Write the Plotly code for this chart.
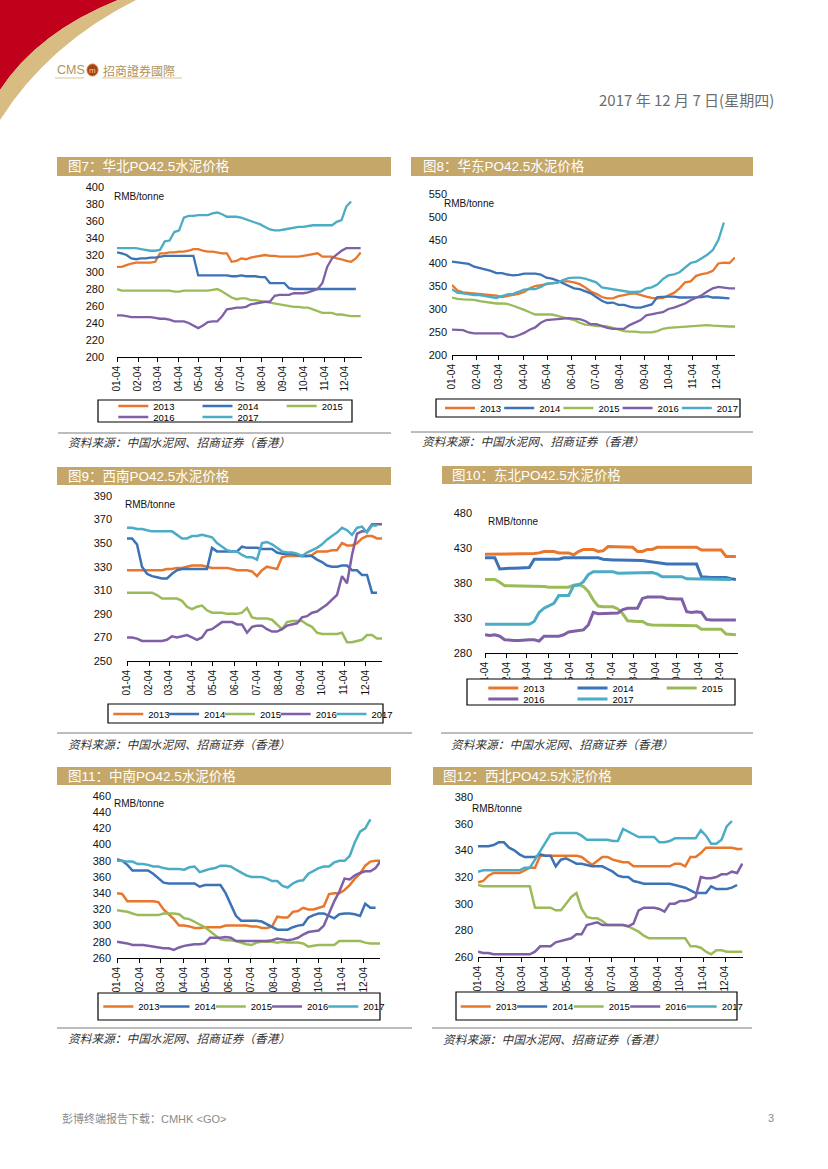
import pandas as pd
import plotly.graph_objects as go

W, H = 828, 1169

# ---------------- data (weekly readings from 01-04) ----------------
years = ["2013", "2014", "2015", "2016", "2017"]
tick_start = "2017-01-04"

# 图7 华北
north_2013 = [306,306,308,310,311,311,311,311,312,322,322,323,323,324,324,325,327,327,325,324,324,323,322,322,312,313,316,315,317,318,319,320,319,319,318,318,318,318,318,319,320,321,322,318,318,318,316,315,313,312,316,323]
north_2014 = [323,322,320,316,315,316,316,317,317,318,319,319,319,319,319,319,319,296,296,296,296,296,296,296,295,295,296,295,295,295,294,294,287,287,287,287,281,280,280,280,280,280,280,280,280,280,280,280,280,280,280]
north_2015 = [280,278,278,278,278,278,278,278,278,278,278,278,277,277,278,278,278,278,278,278,279,280,277,274,270,268,269,269,267,267,266,265,264,263,262,261,260,259,259,258,258,256,254,252,252,252,250,250,249,248,248,248]
north_2016 = [249,249,248,247,247,247,247,247,246,245,245,244,242,242,242,240,237,234,237,241,242,242,248,256,257,258,258,259,262,263,264,265,265,272,273,273,273,275,275,275,276,278,280,287,306,316,321,325,328,328,328,328]
north_2017 = [328,328,328,328,328,327,326,325,325,326,336,337,347,349,364,366,366,367,367,367,369,370,368,365,365,365,364,362,360,358,356,353,350,349,349,350,351,352,353,353,354,355,355,355,355,355,359,361,377,383]

# 图8 华东
east_2013 = [352,340,336,335,333,333,332,331,329,326,328,330,333,337,345,350,352,354,355,357,360,360,358,354,347,338,333,326,323,323,328,330,333,334,330,327,324,323,324,330,335,345,358,360,372,376,378,383,399,401,400,412]
east_2014 = [403,401,400,398,392,389,387,383,378,378,375,373,374,377,377,377,375,368,366,362,356,350,345,343,338,334,326,318,313,314,309,309,305,303,303,306,310,326,327,327,327,325,325,325,325,326,328,325,325,324,323]
east_2015 = [325,322,321,320,320,317,315,313,312,312,311,307,303,298,293,288,288,288,288,285,282,279,276,270,266,265,263,263,262,259,255,252,251,251,249,249,249,252,257,259,260,261,262,263,264,265,265,264,263,262,262,262]
east_2016 = [255,255,254,249,247,247,247,247,247,247,240,239,243,248,255,260,270,276,277,278,280,280,279,278,274,267,267,263,259,257,257,257,265,270,276,286,289,291,293,300,303,307,312,319,325,330,338,345,348,346,345,345]
east_2017 = [343,335,334,332,330,330,328,326,324,328,332,333,338,342,343,343,348,355,356,357,363,367,368,368,366,362,358,347,345,343,340,338,337,337,338,345,347,353,365,373,375,380,390,400,403,410,418,428,450,488]

# 图9 西南
sw_2013 = [327,327,327,327,327,327,327,327,328,328,329,329,330,331,331,331,330,329,329,329,329,328,327,327,327,326,322,327,330,329,328,338,339,339,339,339,339,340,343,343,343,344,344,350,348,348,350,354,356,356,354,354]
sw_2014 = [354,354,349,330,324,322,321,320,320,324,327,328,328,328,328,328,328,346,343,343,343,343,343,347,346,346,346,345,345,345,342,341,341,341,340,339,339,339,336,334,331,330,330,331,331,327,327,323,323,308,308]
sw_2015 = [308,308,308,308,308,308,306,303,303,303,303,301,296,294,296,297,293,291,291,291,290,290,290,291,295,287,286,286,286,285,281,277,283,284,284,284,281,279,274,273,273,273,273,274,266,266,267,268,272,272,269,269]
sw_2016 = [270,270,269,267,267,267,267,267,268,271,270,271,272,270,268,270,276,277,280,283,283,283,281,281,274,279,280,280,277,275,275,277,280,281,282,287,288,291,292,295,298,302,306,322,316,340,358,360,360,366,366,366]
sw_2017 = [363,363,362,362,361,360,360,360,360,360,357,354,354,356,356,357,356,355,350,347,344,343,343,340,338,338,336,350,351,349,346,343,342,342,341,339,342,344,346,349,353,356,359,363,361,357,363,364,359,365,365]

# 图10 东北
ne_2013 = [421,421,422,422,422,422,422,422,422,422,422,423,425,425,425,423,423,423,420,425,428,428,428,425,426,432,432,432,432,432,431,425,425,428,428,431,431,431,431,431,431,431,431,431,427,427,427,427,427,418,418,418]
ne_2014 = [416,416,416,400,401,401,401,401,401,402,414,414,414,414,414,414,416,416,416,416,416,416,416,416,414,413,413,413,413,413,413,413,412,411,410,408,407,407,407,407,407,407,407,407,389,388,388,388,388,388,386,385]
ne_2015 = [385,385,385,381,376,376,376,376,376,376,376,376,375,374,374,374,374,374,377,378,375,368,356,347,346,346,346,343,336,326,325,325,325,321,320,320,320,320,320,320,320,320,320,319,314,314,314,314,314,307,306,306]
ne_2016 = [306,305,306,304,299,298,298,298,299,299,299,297,304,304,304,304,306,310,311,312,313,320,338,336,336,336,336,337,342,344,344,344,358,360,360,360,360,358,357,357,357,339,338,339,338,328,327,327,327,327,327,327]
ne_2017 = [321,321,321,321,321,321,321,321,321,321,325,338,344,348,351,362,362,362,376,377,382,392,396,396,396,396,396,394,394,394,395,395,395,395,395,393,389,389,389,389,389,386,386,386,386,386,386,386,386,385,385]

# 图11 中南
cs_2013 = [340,339,330,330,330,330,330,330,329,320,314,308,300,300,299,297,297,298,298,298,298,300,300,300,300,300,299,299,297,297,299,311,310,310,317,318,322,320,320,322,324,339,340,340,344,350,358,364,374,379,380,380]
cs_2014 = [382,380,375,368,368,368,368,364,358,353,352,352,352,352,352,352,348,350,350,350,350,340,327,312,306,306,306,306,305,302,298,295,295,295,298,300,301,310,313,315,315,312,309,314,315,315,314,312,327,322,322]
cs_2015 = [319,318,317,315,313,313,313,313,313,315,315,315,314,309,308,305,302,298,293,288,283,282,282,281,279,277,276,279,280,280,280,279,280,279,279,279,278,274,275,276,276,276,276,281,281,281,281,281,279,278,278,278]
cs_2016 = [280,279,278,276,276,276,275,274,273,272,272,270,273,275,276,277,277,278,285,285,285,286,285,281,281,281,281,281,281,281,282,284,283,282,283,285,289,292,293,294,300,315,330,342,358,357,362,365,367,367,371,380]
cs_2017 = [380,380,379,379,376,376,375,373,373,371,370,370,370,369,372,373,366,368,370,371,374,374,373,369,365,362,360,360,360,358,355,355,349,347,352,355,356,364,368,371,373,373,378,380,380,386,403,416,420,431]

# 图12 西北
nw_2013 = [316,317,321,323,323,323,323,323,323,325,327,327,336,336,336,336,336,336,336,336,335,332,329,332,335,335,333,332,331,331,328,328,328,328,328,328,328,328,330,330,328,335,335,338,342,342,342,342,342,342,341,341]
nw_2014 = [343,343,343,344,346,346,342,340,337,335,335,335,337,336,336,328,333,334,332,330,330,329,328,328,328,326,324,321,320,320,317,316,315,315,315,315,315,315,314,313,312,310,308,308,308,313,311,311,311,312,314]
nw_2015 = [314,313,313,313,313,313,313,313,313,313,313,297,297,297,297,295,295,300,305,308,296,290,289,289,287,284,284,284,284,283,281,279,276,274,274,274,274,274,274,274,274,268,268,267,264,262,265,265,264,264,264,264]
nw_2016 = [264,263,263,262,262,262,262,262,262,262,262,264,268,268,268,271,272,273,274,277,277,284,285,286,284,284,284,284,284,283,285,295,297,297,297,296,294,300,300,302,302,303,305,320,319,319,320,322,322,324,323,330]
nw_2017 = [324,325,325,325,325,325,325,325,325,327,327,333,339,346,352,353,353,353,353,353,351,348,348,348,348,348,347,347,356,354,352,350,350,350,350,346,346,347,349,349,349,349,349,355,351,345,345,348,358,362]

titles = ["图7：华北PO42.5水泥价格", "图8：华东PO42.5水泥价格", "图9：西南PO42.5水泥价格",
          "图10：东北PO42.5水泥价格", "图11：中南PO42.5水泥价格", "图12：西北PO42.5水泥价格"]
unit_label = "RMB/tonne"
source_text = "资料来源：中国水泥网、招商证券（香港）"

# ---------------- styling / layout ----------------
colors = ["#E8762D", "#3C72B6", "#9BBB59", "#7F60A6", "#4BACC6"]
GOLD = "#C5A76A"
CJK = "Liberation Sans, Noto Sans CJK SC"
weeks = pd.date_range(tick_start, periods=52, freq="7D")


def px(x):
    return x / W


def py(y):
    return 1 - y / H


panels = [
    dict(series=[north_2013, north_2014, north_2015, north_2016, north_2017],
         plot=(117, 362, 187, 357), yr=(200, 400), dt=20, xend="2017-12-29", stand=12, lw=2.3,
         bar=(57, 391, 157, 176), title_x=66, unit=(112, 197),
         lbox=(98, 352, 400, 422), rows=[([0, 1, 2], 118.3, 406), ([3, 4], 118.3, 417)], pitch=84.2,
         src_line=(58, 391, 433), src=(66, 441)),
    dict(series=[east_2013, east_2014, east_2015, east_2016, east_2017],
         plot=(452, 735, 194, 355), yr=(200, 550), dt=50, xend="2017-12-27", stand=4, lw=2.3,
         bar=(411, 753, 157, 176), title_x=421, unit=(442, 203),
         lbox=(436, 740, 399, 417), rows=[([0, 1, 2, 3, 4], 445, 408)], pitch=59.2,
         src_line=(411, 753, 432), src=(420, 440)),
    dict(series=[sw_2013, sw_2014, sw_2015, sw_2016, sw_2017],
         plot=(127, 382, 496, 661), yr=(250, 390), dt=20, xend="2017-12-27", stand=14, lw=2.5,
         bar=(57, 391, 467, 485), title_x=66, unit=(123, 505),
         lbox=(108, 383, 704, 723), rows=[([0, 1, 2, 3, 4], 113.3, 714)], pitch=55.8,
         src_line=(57, 412, 733), src=(66, 743)),
    dict(series=[ne_2013, ne_2014, ne_2015, ne_2016, ne_2017],
         plot=(485, 738, 513, 653), yr=(280, 480), dt=50, xend="2017-12-30", stand=12, lw=3,
         bar=(442, 752, 466, 484), title_x=450, unit=(486, 521),
         lbox=(467, 735, 679, 705), rows=[([0, 1, 2], 488.3, 688), ([3, 4], 488.3, 699)], pitch=89.2,
         src_line=(441, 753, 733), src=(449, 743)),
    dict(series=[cs_2013, cs_2014, cs_2015, cs_2016, cs_2017],
         plot=(117, 380, 796, 958), yr=(260, 460), dt=20, xend="2017-12-26", stand=5, lw=2.5,
         bar=(57, 391, 767, 785), title_x=66, unit=(112, 803),
         lbox=(98, 380, 993, 1020), rows=[([0, 1, 2, 3, 4], 103.3, 1006.5)], pitch=56.25,
         src_line=(57, 412, 1028), src=(66, 1037)),
    dict(series=[nw_2013, nw_2014, nw_2015, nw_2016, nw_2017],
         plot=(478, 743, 797, 957), yr=(260, 380), dt=20, xend="2017-12-28", stand=4, lw=2.5,
         bar=(433, 752, 767, 785), title_x=441, unit=(470, 808),
         lbox=(456, 737, 992, 1020), rows=[([0, 1, 2, 3, 4], 460.7, 1006.5)], pitch=56.5,
         src_line=(432, 752, 1028), src=(441, 1038)),
]

fig = go.Figure()
layout = dict(width=W, height=H, margin=dict(l=0, r=0, t=0, b=0), template="none",
              paper_bgcolor="white", plot_bgcolor="white", showlegend=True, hovermode=False)
shapes, annotations = [], []
legend_count = 0

for i, p in enumerate(panels):
    ax = "" if i == 0 else str(i + 1)
    x0, x1, y0, y1 = p["plot"]
    layout["xaxis" + ax] = dict(
        domain=[px(x0), px(x1)], anchor="y" + ax, type="date",
        range=[tick_start, p["xend"]], tick0=tick_start, dtick="M1", tickformat="%m-%d",
        tickangle=-90, ticks="outside", ticklen=4, tickcolor="#000", showline=True,
        linecolor="#000", linewidth=1, showgrid=False, zeroline=False,
        tickfont=dict(family="Liberation Sans", size=10, color="#111"))
    layout["yaxis" + ax] = dict(
        domain=[py(y1), py(y0)], anchor="x" + ax, range=list(p["yr"]), dtick=p["dt"],
        tick0=p["yr"][0], showline=False, ticks="", showgrid=False, zeroline=False,
        ticklabelstandoff=p["stand"],
        tickfont=dict(family="Liberation Sans", size=11, color="#111"))

    # one small legend per entry, so every entry sits exactly where the reference has it
    legend_of = {}
    for idxs, lx, ly in p["rows"]:
        for j, k in enumerate(idxs):
            legend_count += 1
            lname = "legend" if legend_count == 1 else "legend%d" % legend_count
            layout[lname] = dict(
                orientation="h", x=px(lx + j * p["pitch"] - 5), xanchor="left", y=py(ly),
                yanchor="middle", bgcolor="rgba(0,0,0,0)", borderwidth=0, itemwidth=30,
                font=dict(family="Liberation Sans", size=9.5, color="#000"))
            legend_of[k] = lname

    for k, vals in enumerate(p["series"]):
        fig.add_trace(go.Scatter(
            x=weeks[:len(vals)], y=vals, mode="lines", name=years[k],
            line=dict(color=colors[k], width=p["lw"]),
            xaxis="x" + ax, yaxis="y" + ax, legend=legend_of[k]))

    # title bar
    bx0, bx1, by0, by1 = p["bar"]
    shapes.append(dict(type="rect", xref="paper", yref="paper", x0=px(bx0), x1=px(bx1),
                       y0=py(by1), y1=py(by0), fillcolor=GOLD, line=dict(width=0), layer="below"))
    annotations.append(dict(text=titles[i], xref="paper", yref="paper", x=px(p["title_x"]),
                            y=py((by0 + by1) / 2), xanchor="left", yanchor="middle", showarrow=False,
                            font=dict(family=CJK, size=13.5, color="white")))
    # unit label
    ux, uy = p["unit"]
    annotations.append(dict(text=unit_label, xref="paper", yref="paper", x=px(ux), y=py(uy),
                            xanchor="left", yanchor="middle", showarrow=False,
                            font=dict(family="Liberation Sans", size=10, color="#111")))
    # legend box
    lx0, lx1, ly0, ly1 = p["lbox"]
    shapes.append(dict(type="rect", xref="paper", yref="paper", x0=px(lx0), x1=px(lx1),
                       y0=py(ly1), y1=py(ly0), fillcolor="white",
                       line=dict(color="#000", width=1.2), layer="above"))
    # source line + text
    sx0, sx1, sy = p["src_line"]
    shapes.append(dict(type="line", xref="paper", yref="paper", x0=px(sx0), x1=px(sx1),
                       y0=py(sy), y1=py(sy), line=dict(color="#7a7a7a", width=1)))
    tx, ty = p["src"]
    annotations.append(dict(text=source_text, xref="paper", yref="paper", x=px(tx), y=py(ty),
                            xanchor="left", yanchor="middle", showarrow=False,
                            font=dict(family="Noto Sans CJK SC", size=11.7, color="#333", style="italic")))


# ---------------- page header / footer ----------------
def path_px(pts_cmds):
    out = []
    for tok in pts_cmds:
        if isinstance(tok, str):
            out.append(tok)
        else:
            out.append("%.5f,%.5f" % (px(tok[0]), py(tok[1])))
    return " ".join(out)


red_path = path_px(["M", (0, 0), "L", (118, 0), "Q", (38, 32), (0, 90), "Z"])
gold_path = path_px(["M", (118, 0), "L", (136, 0), "Q", (48, 44), (0, 120), "L", (0, 90),
                     "Q", (38, 32), (118, 0), "Z"])
shapes.append(dict(type="path", xref="paper", yref="paper", path=red_path,
                   fillcolor="#C1001B", line=dict(width=0)))
shapes.append(dict(type="path", xref="paper", yref="paper", path=gold_path,
                   fillcolor="#D9BC82", line=dict(width=0)))

# logo
annotations.append(dict(text="CMS", xref="paper", yref="paper", x=px(55), y=py(70), xanchor="left",
                        yanchor="middle", showarrow=False,
                        font=dict(family="Liberation Sans", size=12.5, color="#B39358")))
shapes.append(dict(type="circle", xref="paper", yref="paper", x0=px(87), x1=px(98),
                   y0=py(76), y1=py(64), fillcolor="#A8421A", line=dict(color="#C8782E", width=1)))
annotations.append(dict(text="m", xref="paper", yref="paper", x=px(92.5), y=py(70), xanchor="center",
                        yanchor="middle", showarrow=False,
                        font=dict(family="Liberation Sans", size=8, color="#F5D27A")))
annotations.append(dict(text="招商證券國際", xref="paper", yref="paper", x=px(101), y=py(70),
                        xanchor="left", yanchor="middle", showarrow=False,
                        font=dict(family="Noto Sans CJK TC", size=12, color="#B39358")))
for a, b in [(55, 84), (102, 182)]:
    shapes.append(dict(type="line", xref="paper", yref="paper", x0=px(a), x1=px(b), y0=py(78),
                       y1=py(78), line=dict(color="#D7C49C", width=1)))

annotations.append(dict(text="2017 年 12 月 7 日(星期四)", xref="paper", yref="paper", x=px(776),
                        y=py(100), xanchor="right", yanchor="middle", showarrow=False,
                        font=dict(family="Liberation Sans Narrow, Noto Sans CJK SC", size=15, color="#6d6d6d")))
annotations.append(dict(text="彭博终端报告下载：CMHK <GO>", xref="paper", yref="paper", x=px(60),
                        y=py(1118), xanchor="left", yanchor="middle", showarrow=False,
                        font=dict(family="Liberation Sans, Noto Sans CJK SC", size=11, color="#8a8a8a")))
annotations.append(dict(text="3", xref="paper", yref="paper", x=px(776), y=py(1118), xanchor="right",
                        yanchor="middle", showarrow=False,
                        font=dict(family="Liberation Sans", size=11, color="#8a8a8a")))

layout["shapes"] = shapes
layout["annotations"] = annotations
fig.update_layout(**layout)

fig.write_html("out.html", config={"displayModeBar": False},
               post_script="document.body.style.margin='0';")
